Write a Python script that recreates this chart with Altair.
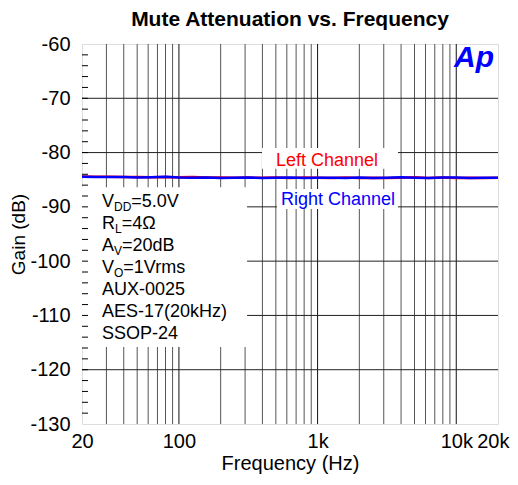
import altair as alt
import pandas as pd

# ---------------- data ----------------
freqs = [20, 25, 31.5, 40, 50, 63, 80, 100, 125, 160, 200, 250, 315, 400, 500, 630,
         800, 1000, 1250, 1600, 2000, 2500, 3150, 4000, 5000, 6300, 8000, 10000,
         12500, 16000, 20000]
left_db = [-84.4, -84.45, -84.45, -84.5, -84.5, -84.55, -84.5, -84.55, -84.5, -84.6,
           -84.6, -84.65, -84.6, -84.65, -84.6, -84.7, -84.6, -84.65, -84.7, -84.6,
           -84.7, -84.65, -84.7, -84.65, -84.55, -84.7, -84.6, -84.7, -84.65, -84.7, -84.65]
right_db = [-84.45, -84.5, -84.5, -84.5, -84.6, -84.55, -84.45, -84.6, -84.65, -84.6,
            -84.7, -84.65, -84.6, -84.7, -84.65, -84.6, -84.7, -84.65, -84.65, -84.7,
            -84.6, -84.7, -84.65, -84.55, -84.65, -84.7, -84.6, -84.6, -84.7, -84.65, -84.65]

x_tick_values = [20, 100, 1000, 10000, 20000]
y_tick_values = [-130, -120, -110, -100, -90, -80, -70, -60]
v_grid_major = [100, 1000, 10000]
v_grid_minor = [30, 40, 50, 60, 70, 80, 90, 200, 300, 400, 500, 600, 700, 800, 900,
                2000, 3000, 4000, 5000, 6000, 7000, 8000, 9000]
h_grid = [-120, -110, -100, -90, -80, -70]
minor_y_ticks = list(range(-128, -60, 2))

FONT = "Liberation Sans"
W, H = 416, 380

xs = alt.Scale(type="log", domain=[20, 20000], nice=False)
ys = alt.Scale(domain=[-130, -60], nice=False, zero=False)

series_df = pd.DataFrame({
    "f": freqs * 2,
    "db": left_db + right_db,
    "ch": ["Left"] * len(freqs) + ["Right"] * len(freqs),
})

# gridlines
vmin = alt.Chart(pd.DataFrame({"f": v_grid_minor})).mark_rule(color="#555", strokeWidth=1).encode(
    x=alt.X("f:Q", scale=xs, axis=alt.Axis(
        values=x_tick_values, labelExpr="datum.value >= 1000 ? (datum.value/1000) + 'k' : '' + datum.value",
        grid=False, ticks=False, domain=False, labelFont=FONT, labelFontSize=20, labelColor="#000",
        labelPadding=7, title="Frequency (Hz)", titleFont=FONT, titleFontSize=20,
        titleFontWeight="normal", titleColor="#000", titlePadding=2, labelFlush=False,
        labelAlign={"condition": {"test": "datum.value >= 20000", "value": "right"}, "value": "center"},
        labelOffset={"condition": {"test": "datum.value >= 20000", "value": 11}, "value": 0})),
    y=alt.value(0), y2=alt.value(H))
vmaj = alt.Chart(pd.DataFrame({"f": v_grid_major})).mark_rule(color="#111", strokeWidth=1).encode(
    x=alt.X("f:Q", scale=xs), y=alt.value(0), y2=alt.value(H))
hgrid = alt.Chart(pd.DataFrame({"db": h_grid})).mark_rule(color="#222", strokeWidth=1).encode(
    y=alt.Y("db:Q", scale=ys, axis=alt.Axis(
        values=y_tick_values, labelExpr="'' + datum.value", grid=False, ticks=False, domain=False,
        labelFont=FONT, labelFontSize=20, labelColor="#000", labelPadding=12, title="Gain (dB)",
        titleFont=FONT, titleFontSize=19, titleFontWeight="normal", titleColor="#000",
        titlePadding=1, labelFlush=False)),
    x=alt.value(0), x2=alt.value(W))

# white boxes behind annotations
boxes_df = pd.DataFrame({
    "f1": [20, 397, 509], "f2": [310, 3797, 3797],
    "d1": [-86.4, -79.15, -86.7], "d2": [-115.8, -83.0, -90.4],
})
boxes = alt.Chart(boxes_df).mark_rect(color="white").encode(
    x=alt.X("f1:Q", scale=xs), x2="f2:Q",
    y=alt.Y("d1:Q", scale=ys), y2="d2:Q")

# minor ticks on y axis
mticks = alt.Chart(pd.DataFrame({"db": minor_y_ticks})).mark_rule(color="#000", strokeWidth=1).encode(
    y=alt.Y("db:Q", scale=ys), x=alt.value(0), x2=alt.value(6))

# data lines
lines = alt.Chart(series_df).mark_line(strokeWidth=2.5).encode(
    x=alt.X("f:Q", scale=xs), y=alt.Y("db:Q", scale=ys),
    color=alt.Color("ch:N", scale=alt.Scale(domain=["Left", "Right"], range=["#ff0000", "#0000ff"]),
                    legend=None),
    order=alt.Order("ch:N"))

# channel labels
lab_df = pd.DataFrame({"f": [1168, 1402], "db": [-81.5, -88.7],
                       "t": ["Left Channel", "Right Channel"], "c": ["#ff0000", "#0000ff"]})
labels = alt.Chart(lab_df).mark_text(font=FONT, fontSize=18, align="center", baseline="middle").encode(
    x=alt.X("f:Q", scale=xs), y=alt.Y("db:Q", scale=ys), text="t:N",
    color=alt.Color("c:N", scale=None))

# condition annotations (with subscripts)
seg_rows = [
    ("V", 20, 0, 18), ("DD", 32, 0, 12), ("=5.0V", 49.3, 0, 18),
    ("R", 20, 1, 18), ("L", 33, 1, 12), ("=4Ω", 39.7, 1, 18),
    ("A", 20, 2, 18), ("V", 32, 2, 12), ("=20dB", 40, 2, 18),
    ("V", 20, 3, 18), ("O", 32, 3, 12), ("=1Vrms", 41.3, 3, 18),
    ("AUX-0025", 20, 4, 18),
    ("AES-17(20kHz)", 20, 5, 18),
    ("SSOP-24", 20, 6, 18),
]
ann_df = pd.DataFrame({
    "t": [r[0] for r in seg_rows],
    "px": [r[1] for r in seg_rows],
    "py": [157.5 + 22 * r[2] + (5 if r[3] == 12 else 0) for r in seg_rows],
    "fs": [r[3] for r in seg_rows],
})
ann = alt.Chart(ann_df).mark_text(font=FONT, align="left", baseline="middle", color="#000").encode(
    x=alt.X("px:Q", scale=None), y=alt.Y("py:Q", scale=None), text="t:N",
    size=alt.Size("fs:Q", scale=None, legend=None))

logo = alt.Chart(pd.DataFrame({"t": ["Ap"]})).mark_text(
    font=FONT, fontSize=30, fontWeight="bold", fontStyle="italic", color="#0000ff",
    align="right", baseline="alphabetic").encode(
    text="t:N", x=alt.value(412), y=alt.value(23))

chart = alt.layer(vmin, vmaj, hgrid, boxes, mticks, lines, labels, ann, logo).properties(
    width=W, height=H,
    title=alt.Title("Mute Attenuation vs. Frequency", font=FONT, fontSize=21, fontWeight="bold",
                    color="#000", anchor="middle", offset=4),
    autosize=alt.AutoSizeParams(type="none"),
    padding={"left": 74, "top": 36, "right": 12, "bottom": 53},
).configure_view(stroke="#111", strokeWidth=2).configure(background="white")

chart.save("out.html", embed_options={"renderer": "svg", "actions": False})
